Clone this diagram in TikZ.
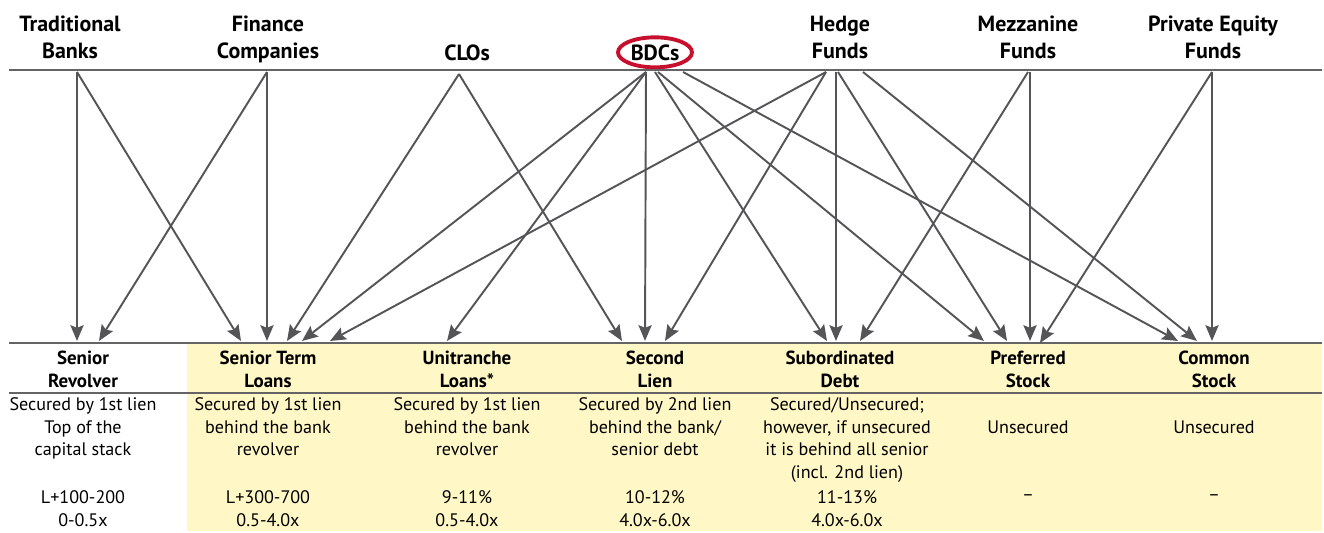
\documentclass[tikz,border=0pt]{standalone}
\usepackage{fontspec}
\setmainfont{PT Sans}
\usetikzlibrary{arrows.meta}

\definecolor{rulegray}{RGB}{100,100,102}
\definecolor{arrowgray}{RGB}{85,85,87}
\definecolor{paleyellow}{RGB}{255,248,198}
\definecolor{bdcred}{RGB}{200,16,46}

\tikzset{
  toplabel/.style={anchor=north, inner sep=0pt, align=center, font=\fontsize{12.5}{15.3}\selectfont\bfseries},
  colhead/.style={anchor=north, inner sep=0pt, align=center, font=\fontsize{10.8}{13}\selectfont\bfseries},
  coltext/.style={anchor=north, inner sep=0pt, align=center, font=\fontsize{10.3}{13}\selectfont},
  arr/.style={draw=arrowgray, line width=1.1pt, -{Stealth[length=9pt, width=7.5pt, inset=1.5pt]}},
  rule/.style={draw=rulegray, line width=1.5pt}
}

\begin{document}
\begin{tikzpicture}[x=0.02cm, y=-0.02cm]
\useasboundingbox (0,0) rectangle (1324,533);

\fill[paleyellow] (187,343) rectangle (1322,531);

% lenders
\node[toplabel] (tb) at (70,16) {Traditional\\Banks};
\node[toplabel] (fc) at (268,16) {Finance\\Companies};
\node[toplabel] (clo) at (467,44) {CLOs};
\node[toplabel] (bdc) at (655,44) {BDCs};
\node[toplabel] (hf) at (840,16) {Hedge\\Funds};
\node[toplabel] (mf) at (1028,16) {Mezzanine\\Funds};
\node[toplabel] (pe) at (1213,16) {Private Equity\\Funds};
\draw[bdcred, line width=2.2pt] (bdc.center) ellipse (37 and 15);

\draw[rule] (9,70) -- (1322,70);
\draw[rule] (9,343) -- (1322,343);
\draw[rule] (9,393) -- (1322,393);

% instruments
\node[colhead] (rev) at (83,351) {Senior\\Revolver};
\node[colhead] (stl) at (268,351) {Senior Term\\Loans};
\node[colhead] (uni) at (467,351) {Unitranche\\Loans*};
\node[colhead] (sl) at (655,351) {Second\\Lien};
\node[colhead] (sub) at (840,351) {Subordinated\\Debt};
\node[colhead] (pref) at (1028,351) {Preferred\\Stock};
\node[colhead] (com) at (1214,351) {Common\\Stock};

\node[coltext] (revsec) at (83,397) {Secured by 1st lien\\Top of the\\capital stack};
\node[coltext] (stlsec) at (268,397) {Secured by 1st lien\\behind the bank\\revolver};
\node[coltext] (unisec) at (467,397) {Secured by 1st lien\\behind the bank\\revolver};
\node[coltext] (slsec) at (655,397) {Secured by 2nd lien\\behind the bank/\\senior debt};
\node[coltext] (subsec) at (847,397) {Secured/Unsecured;\\however, if unsecured\\it is behind all senior\\(incl. 2nd lien)};
\node[coltext] (prefsec) at (1028,420) {Unsecured};
\node[coltext] (comsec) at (1214,420) {Unsecured};

\node[coltext] (revrate) at (83,490) {L+100-200\\0-0.5x};
\node[coltext] (stlrate) at (268,490) {L+300-700\\0.5-4.0x};
\node[coltext] (unirate) at (467,490) {9-11\%\\0.5-4.0x};
\node[coltext] (slrate) at (655,490) {10-12\%\\4.0x-6.0x};
\node[coltext] (subrate) at (847,490) {11-13\%\\4.0x-6.0x};
\node[coltext] (prefrate) at (1028,494) {--};
\node[coltext] (comrate) at (1214,494) {--};

% outlets under the upper rule
\coordinate (tbO) at (77,72);
\coordinate (fcO) at (267,72);
\coordinate (cloO) at (459,74);
\coordinate (bdcO) at (646,72);
\coordinate (bdcO2) at (655,72);
\coordinate (bdcO3) at (658,72);
\coordinate (bdcO4) at (683,72);
\coordinate (hfO) at (826,72);
\coordinate (hfO2) at (836,72);
\coordinate (hfO3) at (838,72);
\coordinate (hfO4) at (863,72);
\coordinate (mfO) at (1028,72);
\coordinate (mfO2) at (1030,72);
\coordinate (peO) at (1212,72);

% inlets over the lower rule
\coordinate (revA) at (77,341);
\coordinate (revB) at (99,341);
\coordinate (stlA) at (241,341);
\coordinate (stlB) at (267,341);
\coordinate (stlC) at (287,341);
\coordinate (stlD) at (302,341);
\coordinate (stlE) at (330,341);
\coordinate (uniA) at (447,341);
\coordinate (slA) at (622,341);
\coordinate (slB) at (645,341);
\coordinate (slC) at (665,341);
\coordinate (subA) at (827,341);
\coordinate (subB) at (836,341);
\coordinate (subC) at (860,341);
\coordinate (prefA) at (984,341);
\coordinate (prefB) at (1007,341);
\coordinate (prefC) at (1030,341);
\coordinate (prefD) at (1040,343);
\coordinate (comA) at (1178,341);
\coordinate (comB) at (1197,341);
\coordinate (comC) at (1212,341);

\foreach \a/\b in {tbO/revA, tbO/stlA, fcO/revB, fcO/stlB, cloO/stlC, cloO/slA,
  bdcO/stlD, bdcO/uniA, bdcO/slB, bdcO2/subA, bdcO3/prefA, bdcO4/comA,
  hfO/stlE, hfO/slC, hfO2/subB, hfO3/prefB, hfO4/comB,
  mfO/subC, mfO2/prefC, peO/prefD, peO/comC}
  \draw[arr] (\a) -- (\b);

\end{tikzpicture}
\end{document}
